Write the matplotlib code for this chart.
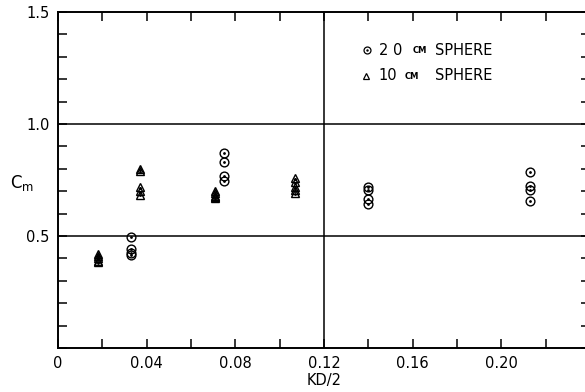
import numpy as np
import matplotlib
matplotlib.use("Agg")
import matplotlib.pyplot as plt

# 20 cm sphere (circles)
c20_x = [0.033, 0.033, 0.033, 0.033,
         0.075, 0.075, 0.075, 0.075,
         0.140, 0.140, 0.140, 0.140,
         0.213, 0.213, 0.213, 0.213]
c20_y = [0.495, 0.44, 0.425, 0.415,
         0.87, 0.83, 0.77, 0.745,
         0.72, 0.705, 0.665, 0.645,
         0.785, 0.725, 0.705, 0.655]

# 10 cm sphere (triangles)
c10_x = [0.018, 0.018, 0.018, 0.018, 0.018,
         0.037, 0.037, 0.037, 0.037, 0.037,
         0.071, 0.071, 0.071, 0.071, 0.071,
         0.107, 0.107, 0.107, 0.107, 0.107]
c10_y = [0.42, 0.41, 0.40, 0.39, 0.385,
         0.80, 0.79, 0.72, 0.70, 0.685,
         0.70, 0.69, 0.68, 0.675, 0.67,
         0.76, 0.74, 0.72, 0.705, 0.69]

xticks = np.arange(0, 0.2401, 0.02)
xlabels = ["0", "0.04", "0.08", "0.12", "0.16", "0.20"]
yticks = np.arange(0, 1.501, 0.1)
ylabels = ["0.5", "1.0", "1.5"]

fig = plt.figure(figsize=(5.85, 3.92), dpi=100)
ax = fig.add_axes([58/585, 44/392, 532/585, 336/392])
ax.set_xlim(0, 0.24)
ax.set_ylim(0, 1.5)

ax.axhline(0.5, color="k", lw=1.1)
ax.axhline(1.0, color="k", lw=1.1)
ax.axvline(0.12, color="k", lw=1.1)

ms = 6.3
ax.plot(c20_x, c20_y, "o", mfc="none", mec="k", mew=1.0, ms=ms)
ax.plot(c20_x, c20_y, ".", color="k", ms=2)
ax.plot(c10_x, c10_y, "^", mfc="none", mec="k", mew=1.0, ms=ms)
ax.plot(c10_x, np.array(c10_y) - 0.004, ".", color="k", ms=2)

# legend drawn by hand
ax.plot([0.1394], [1.330], "o", mfc="none", mec="k", mew=0.9, ms=5)
ax.plot([0.1394], [1.330], ".", color="k", ms=1.5)
ax.plot([0.139], [1.216], "^", mfc="none", mec="k", mew=0.9, ms=5)
fs = 10.5
ax.text(0.1450, 1.330, "2 0", fontsize=fs, va="center", ha="left")
ax.text(0.1600, 1.326, "CM", fontsize=6, va="center", ha="left", weight="bold")
ax.text(0.1700, 1.330, "SPHERE", fontsize=fs, va="center", ha="left")
ax.text(0.1444, 1.216, "10", fontsize=fs, va="center", ha="left")
ax.text(0.1565, 1.212, "CM", fontsize=6, va="center", ha="left", weight="bold")
ax.text(0.1700, 1.216, "SPHERE", fontsize=fs, va="center", ha="left")

ax.set_xticks(xticks)
ax.set_xticklabels([xlabels[i // 2] if i % 2 == 0 and i // 2 < len(xlabels) else ""
                    for i in range(len(xticks))])
ax.set_yticks(yticks)
ax.set_yticklabels([ylabels[i // 5 - 1] if i % 5 == 0 and i > 0 else ""
                    for i in range(len(yticks))])
ax.tick_params(direction="in", length=6.5, width=1.1, top=True, right=True,
               labelsize=fs, pad=6)
for s in ax.spines.values():
    s.set_linewidth(1.4)

fig.text(324/585, 1 - 381/392, "KD/2", fontsize=fs, ha="center", va="center")
fig.text(22/585, 1 - 183/392, r"$\mathregular{C_m}$", fontsize=12, ha="center", va="center")

fig.savefig("out.png", dpi=100)
